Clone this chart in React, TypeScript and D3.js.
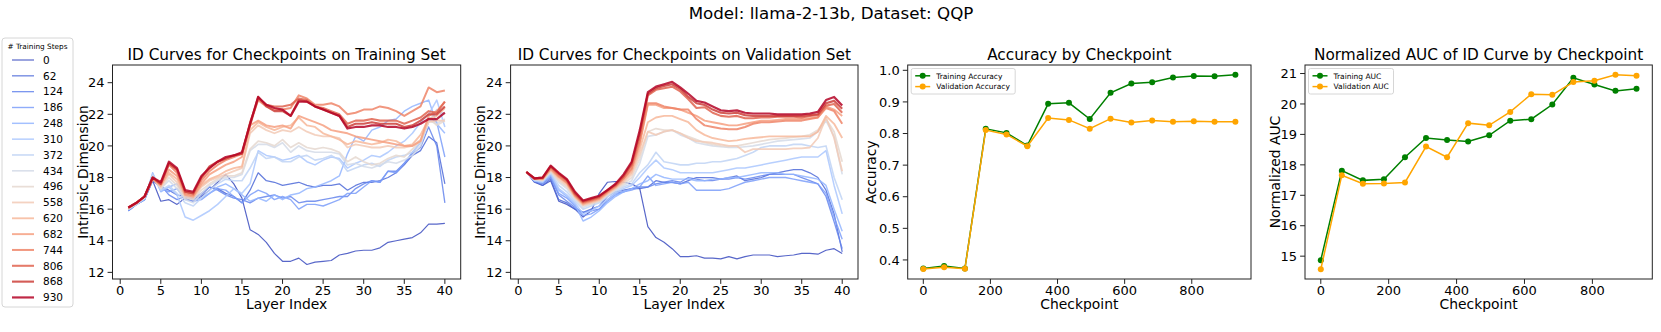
import React from 'react';
import * as d3 from 'd3';

// ---- data ----
const checkpoints = [0, 62, 124, 186, 248, 310, 372, 434, 496, 558, 620, 682, 744, 806, 868, 930];
const layers = d3.range(1, 41);

// ID per layer, one row per checkpoint (training set)
const trainId: number[][] = [
  [15.9,16.3,16.6,17.8,16.5,16.6,16.3,16.7,16.5,16.8,17.2,17.7,18.2,17.6,16.7,14.7,14.4,13.9,13.2,12.7,12.7,12.9,12.5,12.65,12.7,12.75,13.1,13.2,13.35,13.4,13.4,13.55,13.9,14.0,14.1,14.2,14.5,15.05,15.05,15.1],
  [16.0,16.4,16.7,17.8,17.4,17.2,16.9,16.8,16.6,16.9,17.4,17.3,17.0,16.8,16.4,17.2,18.3,17.8,17.7,17.5,17.6,17.7,17.5,17.4,17.5,17.5,17.6,17.2,17.5,17.7,17.7,17.8,18.0,18.3,18.8,19.4,19.7,20.6,20.2,17.6],
  [15.9,16.3,16.6,17.9,17.5,16.9,16.6,16.8,16.7,17.0,17.4,17.2,16.9,16.7,16.6,16.4,16.7,16.8,16.9,16.7,16.8,16.4,16.5,16.5,16.6,16.7,16.8,16.8,17.3,17.6,17.8,17.7,18.4,18.4,18.9,19.5,19.9,21.2,20.0,16.4],
  [15.9,16.3,16.6,18.0,17.3,17.1,17.3,16.6,16.5,16.6,17.0,17.3,17.2,16.8,16.4,16.9,17.2,17.0,16.6,16.8,16.6,16.0,16.3,16.3,16.2,16.4,16.6,17.0,17.0,17.4,17.8,17.7,18.4,18.3,18.9,19.6,20.2,21.8,21.5,19.3],
  [16.0,16.3,16.6,18.3,17.1,17.4,17.6,16.8,16.6,16.7,17.0,17.4,17.6,17.3,16.9,16.5,16.7,16.5,16.9,16.6,16.9,17.0,17.3,17.4,17.6,17.8,18.1,19.5,20.6,20.3,21.0,21.2,21.6,21.7,22.2,22.5,22.7,22.9,21.4,20.8],
  [16.0,16.4,16.7,18.1,17.2,17.4,16.9,15.5,15.3,15.6,15.9,16.3,16.8,17.3,17.0,17.6,19.7,19.4,19.3,19.1,19.2,19.4,19.0,18.8,19.1,19.3,19.2,18.6,18.9,19.1,19.4,19.3,19.6,20.0,20.3,20.8,21.5,22.0,22.9,21.2],
  [16.0,16.3,16.7,18.2,17.2,17.5,17.0,16.4,16.2,16.7,17.2,17.6,17.9,17.8,17.8,18.6,19.6,19.2,19.3,19.0,19.0,19.3,19.4,19.1,19.2,19.4,19.1,18.4,18.6,18.8,18.9,18.7,19.1,19.3,19.4,19.6,20.2,21.5,22.3,22.0],
  [16.0,16.3,16.7,18.1,17.3,17.8,17.3,16.6,16.4,17.0,17.5,17.8,18.0,18.0,18.2,19.7,20.1,20.1,19.9,20.2,19.6,20.0,19.7,19.6,19.6,19.6,19.5,18.8,18.9,18.7,18.6,18.8,19.0,18.9,19.1,19.4,20.0,21.6,21.4,21.7],
  [16.0,16.4,16.7,18.0,17.3,18.0,17.5,16.7,16.6,17.2,17.6,17.9,18.1,18.1,18.3,19.8,20.3,20.2,20.0,20.4,19.9,20.2,19.9,19.8,19.9,19.8,19.6,19.0,19.3,19.0,18.8,18.9,19.2,19.4,19.3,19.8,20.3,21.8,21.3,21.6],
  [16.0,16.4,16.8,17.9,17.4,18.2,17.7,16.8,16.7,17.4,17.8,18.0,18.2,18.4,18.6,20.8,21.3,21.0,20.8,21.0,20.9,21.2,20.9,20.7,20.6,20.6,20.5,19.9,20.1,20.0,19.9,19.9,20.0,19.9,19.9,20.0,20.4,21.5,21.6,21.6],
  [16.1,16.4,16.8,17.9,17.5,18.3,17.9,16.9,16.8,17.5,17.9,18.1,18.4,18.6,18.7,21.0,21.5,21.2,21.0,21.2,21.3,21.8,21.3,21.2,20.8,20.6,20.4,20.1,20.3,20.2,20.1,20.2,20.4,20.3,20.0,20.1,20.7,21.7,21.9,22.4],
  [16.1,16.4,16.8,17.9,17.5,18.5,18.1,16.9,16.8,17.6,18.2,18.5,18.8,19.0,19.3,21.3,21.6,21.3,21.2,21.3,21.1,21.9,21.7,21.5,21.3,21.0,20.9,20.8,20.6,20.5,20.4,20.3,20.2,20.1,20.0,20.0,20.3,21.9,22.2,22.8],
  [16.1,16.4,16.8,17.9,17.6,18.8,18.3,17.0,16.9,17.8,18.4,18.8,19.1,19.3,19.5,21.5,22.9,22.5,22.3,22.3,22.4,23.2,23.0,22.6,22.6,22.7,22.5,22.0,22.1,22.3,22.3,22.5,22.4,22.2,21.9,22.2,22.5,23.7,23.4,23.5],
  [16.1,16.4,16.8,18.0,17.6,18.9,18.5,17.1,17.0,18.0,18.6,19.0,19.2,19.4,19.5,21.3,23.0,22.6,22.5,22.5,22.6,23.0,22.9,22.5,22.4,22.2,22.0,21.4,21.6,21.6,21.7,21.6,21.6,21.6,21.4,21.6,21.8,22.2,22.1,22.8],
  [16.1,16.4,16.8,18.0,17.6,18.9,18.5,17.1,17.0,18.0,18.7,19.0,19.2,19.4,19.5,21.4,23.1,22.5,22.2,22.2,21.9,22.9,22.8,22.5,22.3,22.1,21.9,21.2,21.4,21.4,21.5,21.4,21.4,21.4,21.2,21.3,21.6,22.0,22.0,22.5],
  [16.1,16.4,16.8,18.0,17.7,19.0,18.6,17.2,17.1,18.1,18.6,19.0,19.3,19.4,19.6,21.4,23.1,22.6,22.4,22.3,21.9,22.8,22.8,22.5,22.3,22.1,21.9,21.1,21.2,21.2,21.3,21.3,21.2,21.2,21.1,21.2,21.4,21.7,21.7,22.1],
];

// ID per layer, one row per checkpoint (validation set)
const valId: number[][] = [
  [18.35,17.7,17.5,17.8,16.5,16.3,16.0,15.5,15.9,17.0,17.7,17.75,17.7,17.6,17.3,14.9,14.2,13.9,13.5,13.0,13.0,13.05,12.9,12.9,12.85,13.0,12.85,13.0,13.1,13.1,13.1,13.0,13.05,13.1,13.2,13.2,13.15,13.4,13.5,13.2],
  [18.35,17.75,17.5,17.9,16.6,16.4,16.0,15.8,16.0,16.2,16.8,17.1,17.2,17.3,17.3,17.4,17.8,17.7,17.7,17.6,17.8,18.0,18.0,18.0,17.9,18.0,18.1,17.8,17.9,18.0,18.2,18.3,18.4,18.5,18.5,18.3,18.0,17.2,15.7,13.3],
  [18.35,17.75,17.6,18.0,16.9,16.5,16.1,15.8,15.9,16.0,16.6,17.0,17.1,17.3,17.4,17.4,17.6,17.7,17.8,17.7,18.0,17.9,17.8,17.8,17.9,17.9,18.0,17.9,18.0,18.1,18.2,18.2,18.2,18.2,18.0,17.8,17.6,16.8,15.2,13.5],
  [18.35,17.8,17.65,18.1,17.0,16.7,16.2,15.6,15.7,16.0,16.5,16.9,17.1,17.2,17.4,18.1,17.5,17.6,17.7,17.6,17.7,17.2,17.2,17.2,17.2,17.3,17.5,17.7,17.8,17.9,18.0,18.0,18.0,17.9,17.8,17.7,17.6,17.0,15.5,14.1],
  [18.35,17.8,17.7,18.2,17.2,16.8,16.3,15.25,15.5,15.9,16.4,16.8,17.1,17.3,17.6,17.8,18.2,18.0,17.9,17.9,17.9,17.8,17.8,17.9,17.9,18.0,18.0,18.1,18.2,18.3,18.3,18.3,18.2,18.2,18.1,18.0,17.9,17.5,16.0,14.6],
  [18.35,17.8,17.7,18.25,17.3,16.9,16.4,15.7,15.9,16.2,16.6,17.0,17.3,17.5,18.0,18.6,19.1,18.6,18.5,18.3,18.3,18.3,18.3,18.3,18.4,18.5,18.6,18.6,18.7,18.8,18.9,19.0,19.1,19.2,19.3,19.3,19.3,19.7,17.5,15.7],
  [18.35,17.85,17.75,18.3,17.5,17.1,16.5,16.0,16.2,16.4,16.8,17.1,17.4,17.6,18.3,18.8,19.6,19.0,18.9,18.8,18.8,18.9,18.9,19.0,19.0,19.1,19.2,19.4,19.6,19.9,20.0,20.0,20.0,20.1,20.1,20.0,19.9,20.0,18.0,16.6],
  [18.35,17.85,17.8,18.35,17.7,17.3,16.6,16.1,16.3,16.45,16.85,17.2,17.5,17.8,18.9,20.6,20.7,20.9,21.0,20.7,20.5,20.2,20.1,20.0,19.95,19.9,19.9,19.95,20.0,20.1,20.2,20.3,20.35,20.4,20.45,20.5,20.9,21.6,20.6,18.2],
  [18.35,17.9,17.85,18.4,17.8,17.4,16.7,16.2,16.35,16.5,16.9,17.25,17.6,18.0,19.2,20.9,21.1,21.0,21.0,20.8,20.6,20.4,20.2,20.1,20.0,19.95,20.0,20.1,20.2,20.3,20.4,20.45,20.5,20.55,20.6,20.7,21.0,21.7,20.9,19.0],
  [18.35,17.9,17.85,18.45,17.9,17.5,16.75,16.25,16.4,16.55,16.95,17.3,17.7,18.2,19.5,20.9,20.7,20.9,21.0,20.8,20.5,20.3,20.25,20.2,20.1,20.0,20.0,19.6,19.8,19.8,19.8,19.8,19.8,19.85,19.85,19.9,20.5,21.8,20.5,18.4],
  [18.35,17.9,17.9,18.5,18.0,17.6,16.8,16.3,16.45,16.6,17.0,17.35,17.8,18.35,19.8,21.5,21.8,21.9,21.9,21.7,21.5,21.0,20.7,20.5,20.4,20.3,20.35,20.45,20.5,20.55,20.6,20.6,20.6,20.6,20.6,20.6,20.9,21.9,21.4,20.5],
  [18.35,17.9,17.9,18.55,18.05,17.65,16.85,16.35,16.5,16.65,17.05,17.4,17.9,18.5,20.1,22.6,22.6,22.4,22.4,22.3,22.1,21.9,21.6,21.5,21.4,21.3,21.3,21.4,21.5,21.6,21.6,21.65,21.7,21.7,21.7,21.75,21.8,22.5,22.3,21.9],
  [18.35,17.9,17.95,18.6,18.1,17.7,16.9,16.4,16.55,16.7,17.1,17.45,17.95,18.6,20.3,22.7,22.7,22.5,22.4,22.3,22.3,21.7,21.3,21.2,21.1,21.05,21.05,21.2,21.4,21.5,21.5,21.55,21.6,21.6,21.6,21.7,21.8,22.4,22.2,21.4],
  [18.35,17.95,17.95,18.7,18.2,17.8,16.95,16.45,16.6,16.75,17.15,17.5,18.05,18.8,20.6,23.2,23.55,23.65,23.75,23.45,22.95,22.4,22.45,22.1,21.9,21.85,21.9,21.75,21.75,21.8,21.8,21.85,21.85,21.85,21.8,21.9,21.95,22.55,22.65,22.1],
  [18.35,17.95,18.0,18.7,18.25,17.85,17.0,16.5,16.65,16.8,17.2,17.55,18.1,18.9,20.8,23.3,23.65,23.8,23.9,23.6,23.1,22.7,22.6,22.3,22.1,22.05,22.1,21.95,21.9,21.9,21.9,21.9,21.9,21.9,21.9,21.95,22.0,22.7,22.85,22.35],
  [18.35,17.95,18.0,18.75,18.3,17.9,17.1,16.55,16.7,16.85,17.2,17.6,18.2,19.0,21.0,23.4,23.75,23.9,24.05,23.7,23.3,22.85,22.75,22.5,22.25,22.2,22.25,22.1,22.05,22.05,22.05,22.0,22.0,22.0,22.0,22.05,22.15,22.9,23.1,22.55],
];

const trainAcc = [0.373, 0.381, 0.373, 0.815, 0.802, 0.762, 0.894, 0.897, 0.846, 0.929, 0.958, 0.962, 0.977, 0.982, 0.981, 0.986];
const valAcc = [0.371, 0.377, 0.372, 0.811, 0.797, 0.760, 0.849, 0.843, 0.815, 0.847, 0.835, 0.841, 0.837, 0.839, 0.837, 0.837];
const trainAuc = [14.87, 17.81, 17.49, 17.53, 18.25, 18.88, 18.82, 18.77, 18.97, 19.45, 19.50, 19.98, 20.86, 20.64, 20.43, 20.50];
const valAuc = [14.57, 17.66, 17.38, 17.39, 17.42, 18.60, 18.25, 19.37, 19.30, 19.74, 20.32, 20.30, 20.72, 20.76, 20.96, 20.93];

const layerTicks = [0, 5, 10, 15, 20, 25, 30, 35, 40];
const idTicks = [12, 14, 16, 18, 20, 22, 24];
const ckptTicks = [0, 200, 400, 600, 800];
const accTicks = [0.4, 0.5, 0.6, 0.7, 0.8, 0.9, 1.0];
const aucTicks = [15, 16, 17, 18, 19, 20, 21];

// matplotlib coolwarm
const cwStops = [
  [59,76,192],[68,90,204],[77,104,215],[87,117,225],[98,130,234],[108,142,241],[119,154,247],[130,165,251],
  [141,176,254],[152,185,255],[163,194,255],[174,201,253],[184,208,249],[194,213,244],[204,217,238],[213,219,230],
  [221,221,221],[229,216,209],[236,211,197],[241,204,184],[245,196,172],[247,187,159],[247,177,147],[247,166,134],
  [244,154,123],[241,141,111],[236,127,99],[229,112,89],[222,96,77],[213,80,66],[203,62,56],[192,40,47],[180,4,38],
];
const coolwarm = d3.scaleLinear<string>()
  .domain(cwStops.map((_, i) => i / (cwStops.length - 1)))
  .range(cwStops.map(c => `rgb(${c[0]},${c[1]},${c[2]})`))
  .interpolate(d3.interpolateRgb);
const ckColor = (i: number) => coolwarm(i / (checkpoints.length - 1));
const ckWidth = (i: number) => 1.2 + (i / (checkpoints.length - 1)) * 1.0;

const FONT = 'DejaVu Sans, Liberation Sans, sans-serif';
const TOP = 65;
const BOTTOM = 279;

type AxesProps = {
  id: string;
  left: number;
  right: number;
  xScale: d3.ScaleLinear<number, number>;
  yScale: d3.ScaleLinear<number, number>;
  xTicks: number[];
  yTicks: number[];
  yFmt: (v: number) => string;
  title: string;
  xLabel: string;
  yLabel: string;
  yLabelX: number;
  children?: React.ReactNode;
};

function Axes(p: AxesProps) {
  return (
    <g>
      <clipPath id={p.id}>
        <rect x={p.left} y={TOP} width={p.right - p.left} height={BOTTOM - TOP} />
      </clipPath>
      <g clipPath={`url(#${p.id})`}>{p.children}</g>
      <rect x={p.left} y={TOP} width={p.right - p.left} height={BOTTOM - TOP} fill="none" stroke="#222" strokeWidth={1} />
      {p.xTicks.map(t => (
        <g key={'x' + t}>
          <line x1={p.xScale(t)} x2={p.xScale(t)} y1={BOTTOM} y2={BOTTOM + 4.9} stroke="#222" strokeWidth={1} />
          <text x={p.xScale(t)} y={BOTTOM + 15.5} textAnchor="middle" fontSize={13} fill="#000">{t}</text>
        </g>
      ))}
      {p.yTicks.map(t => (
        <g key={'y' + t}>
          <line x1={p.left - 4.9} x2={p.left} y1={p.yScale(t)} y2={p.yScale(t)} stroke="#222" strokeWidth={1} />
          <text x={p.left - 8} y={p.yScale(t) + 4.7} textAnchor="end" fontSize={13} fill="#000">{p.yFmt(t)}</text>
        </g>
      ))}
      <text x={(p.left + p.right) / 2} y={60} textAnchor="middle" fontSize={15.3} fill="#000">{p.title}</text>
      <text x={(p.left + p.right) / 2} y={308.5} textAnchor="middle" fontSize={13.9} fill="#000">{p.xLabel}</text>
      <text transform={`translate(${p.yLabelX},${(TOP + BOTTOM) / 2}) rotate(-90)`} textAnchor="middle" fontSize={13.9} fill="#000">{p.yLabel}</text>
    </g>
  );
}

function IdPanel({ id, left, right, data, title, yLabelX }: { id: string; left: number; right: number; data: number[][]; title: string; yLabelX: number }) {
  const x = d3.scaleLinear().domain([-0.95, 41.95]).range([left, right]);
  const y = d3.scaleLinear().domain([11.58, 25.12]).range([BOTTOM, TOP]);
  const line = d3.line<number>().x((_, i) => x(layers[i])).y(v => y(v));
  return (
    <Axes id={id} left={left} right={right} xScale={x} yScale={y} xTicks={layerTicks} yTicks={idTicks}
      yFmt={v => String(v)} title={title} xLabel="Layer Index" yLabel="Intrinsic Dimension" yLabelX={yLabelX}>
      {data.map((row, i) => (
        <path key={i} d={line(row) || ''} fill="none" stroke={ckColor(i)} strokeOpacity={0.85}
          strokeWidth={ckWidth(i)} strokeLinejoin="round" />
      ))}
    </Axes>
  );
}

function CkptPanel(p: {
  id: string; left: number; right: number; yDomain: [number, number]; yTicks: number[]; yFmt: (v: number) => string;
  train: number[]; val: number[]; title: string; yLabel: string; yLabelX: number; names: [string, string]; legendW: number;
}) {
  const x = d3.scaleLinear().domain([-46.5, 976.5]).range([p.left, p.right]);
  const y = d3.scaleLinear().domain(p.yDomain).range([BOTTOM, TOP]);
  const line = d3.line<number>().x((_, i) => x(checkpoints[i])).y(v => y(v));
  const series = [
    { vals: p.train, color: 'green', name: p.names[0] },
    { vals: p.val, color: 'orange', name: p.names[1] },
  ];
  const lx = p.left + 3.5;
  return (
    <g>
      <Axes id={p.id} left={p.left} right={p.right} xScale={x} yScale={y} xTicks={ckptTicks} yTicks={p.yTicks}
        yFmt={p.yFmt} title={p.title} xLabel="Checkpoint" yLabel={p.yLabel} yLabelX={p.yLabelX}>
        {series.map(s => (
          <g key={s.name}>
            <path d={line(s.vals) || ''} fill="none" stroke={s.color} strokeWidth={1.5} />
            {s.vals.map((v, i) => (
              <circle key={i} cx={x(checkpoints[i])} cy={y(v)} r={3} fill={s.color} />
            ))}
          </g>
        ))}
      </Axes>
      <rect x={lx} y={68.5} width={p.legendW} height={25.5} rx={2} fill="#fff" fillOpacity={0.8} stroke="#ccc" strokeWidth={0.8} />
      {series.map((s, i) => (
        <g key={s.name}>
          <line x1={lx + 4} x2={lx + 19} y1={75.8 + i * 10.8} y2={75.8 + i * 10.8} stroke={s.color} strokeWidth={1.5} />
          <circle cx={lx + 11.5} cy={75.8 + i * 10.8} r={3} fill={s.color} />
          <text x={lx + 25} y={78.5 + i * 10.8} fontSize={7.5} fill="#000">{s.name}</text>
        </g>
      ))}
    </g>
  );
}

function StepsLegend() {
  return (
    <g>
      <rect x={2} y={38} width={71} height={269} rx={3} fill="#fff" fillOpacity={0.8} stroke="#ccc" strokeWidth={0.8} />
      <text x={37.5} y={49} textAnchor="middle" fontSize={7.3} fill="#000">{'# Training Steps'}</text>
      {checkpoints.map((c, i) => {
        const yy = 60 + i * 15.83;
        return (
          <g key={c}>
            <line x1={12} x2={34} y1={yy} y2={yy} stroke={ckColor(i)} strokeOpacity={0.85} strokeWidth={ckWidth(i)} />
            <text x={43} y={yy + 3.8} fontSize={10.5} fill="#000">{c}</text>
          </g>
        );
      })}
    </g>
  );
}

const App = () => {
  return (
    <svg width={1661} height={332} style={{ position: 'absolute', left: 0, top: 0, background: '#fff' }} fontFamily={FONT}>
      <rect width={1661} height={332} fill="#fff" />
      <text x={831} y={19} textAnchor="middle" fontSize={16.7} fill="#000">Model: llama-2-13b, Dataset: QQP</text>
      <StepsLegend />
      <IdPanel id="c1" left={112.5} right={460.7} data={trainId} title="ID Curves for Checkpoints on Training Set" yLabelX={87.5} />
      <IdPanel id="c2" left={510.6} right={858} data={valId} title="ID Curves for Checkpoints on Validation Set" yLabelX={484.5} />
      <CkptPanel id="c3" left={907.7} right={1251} yDomain={[0.3397, 1.0168]} yTicks={accTicks} yFmt={d3.format('.1f')}
        train={trainAcc} val={valAcc} title="Accuracy by Checkpoint" yLabel="Accuracy" yLabelX={875.5}
        names={['Training Accuracy', 'Validation Accuracy']} legendW={104} />
      <CkptPanel id="c4" left={1305} right={1652.3} yDomain={[14.25, 21.28]} yTicks={aucTicks} yFmt={v => String(v)}
        train={trainAuc} val={valAuc} title="Normalized AUC of ID Curve by Checkpoint" yLabel="Normalized AUC" yLabelX={1280}
        names={['Training AUC', 'Validation AUC']} legendW={85} />
    </svg>
  );
};

export default App;
